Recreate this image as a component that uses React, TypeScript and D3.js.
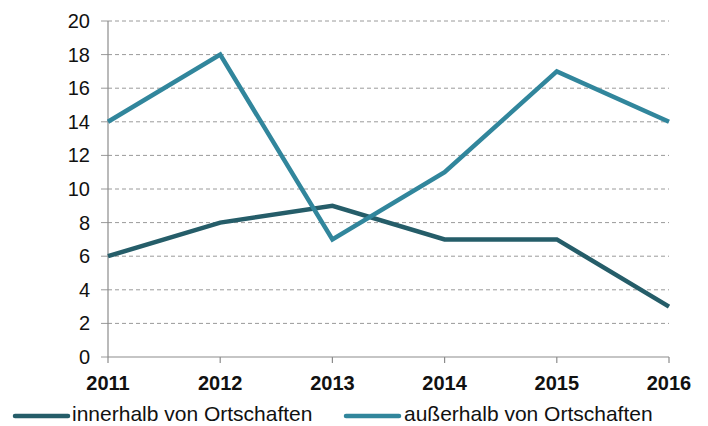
import React from "react";
import { scaleLinear, scalePoint, line } from "d3";

const years = ["2011", "2012", "2013", "2014", "2015", "2016"];
const innerhalb = [6, 8, 9, 7, 7, 3];
const ausserhalb = [14, 18, 7, 11, 17, 14];
const yTicks = [0, 2, 4, 6, 8, 10, 12, 14, 16, 18, 20];
const seriesNames = ["innerhalb von Ortschaften", "außerhalb von Ortschaften"];

const W = 708;
const H = 426;
const colors = ["#255d69", "#31869c"];

export default function App() {
  const x = scalePoint<string>().domain(years).range([108, 669]);
  const y = scaleLinear().domain([0, 20]).range([357, 21]);
  const path = line<number>()
    .x((_, i) => x(years[i]) as number)
    .y((d) => y(d));
  const font = "Liberation Sans, Arial, sans-serif";

  return (
    <svg
      width={W}
      height={H}
      style={{ position: "absolute", left: 0, top: 0, background: "#fff" }}
      fontFamily={font}
    >
      {yTicks.map((t) => (
        <g key={t}>
          {t > 0 && (
            <line
              x1={108}
              x2={669}
              y1={y(t)}
              y2={y(t)}
              stroke="#9a9a9a"
              strokeWidth={1}
              strokeDasharray="4,3"
            />
          )}
          <line x1={101} x2={108} y1={y(t)} y2={y(t)} stroke="#9a9a9a" />
          <text
            x={90}
            y={y(t)}
            dy="0.35em"
            textAnchor="end"
            fontSize={20}
            fill="#111"
          >
            {t}
          </text>
        </g>
      ))}
      <line x1={108} x2={108} y1={21} y2={357} stroke="#8c8c8c" strokeWidth={1.2} />
      <line x1={108} x2={669} y1={357} y2={357} stroke="#8c8c8c" strokeWidth={1.2} />
      {years.map((yr) => (
        <g key={yr}>
          <line
            x1={x(yr)}
            x2={x(yr)}
            y1={357}
            y2={363}
            stroke="#8c8c8c"
            strokeWidth={1.2}
          />
          <text
            x={x(yr)}
            y={390}
            textAnchor="middle"
            fontSize={20}
            fontWeight="bold"
            fill="#111"
          >
            {yr}
          </text>
        </g>
      ))}
      {[innerhalb, ausserhalb].map((s, i) => (
        <path
          key={i}
          d={path(s) || ""}
          fill="none"
          stroke={colors[i]}
          strokeWidth={4.5}
          strokeLinejoin="miter"
        />
      ))}
      <line x1={15} x2={68} y1={416} y2={416} stroke={colors[0]} strokeWidth={4.5} strokeLinecap="round" />
      <text x={72} y={421} fontSize={21} fill="#111">
        {seriesNames[0]}
      </text>
      <line x1={346} x2={399} y1={416} y2={416} stroke={colors[1]} strokeWidth={4.5} strokeLinecap="round" />
      <text x={404} y={421} fontSize={21} fill="#111">
        {seriesNames[1]}
      </text>
    </svg>
  );
}
